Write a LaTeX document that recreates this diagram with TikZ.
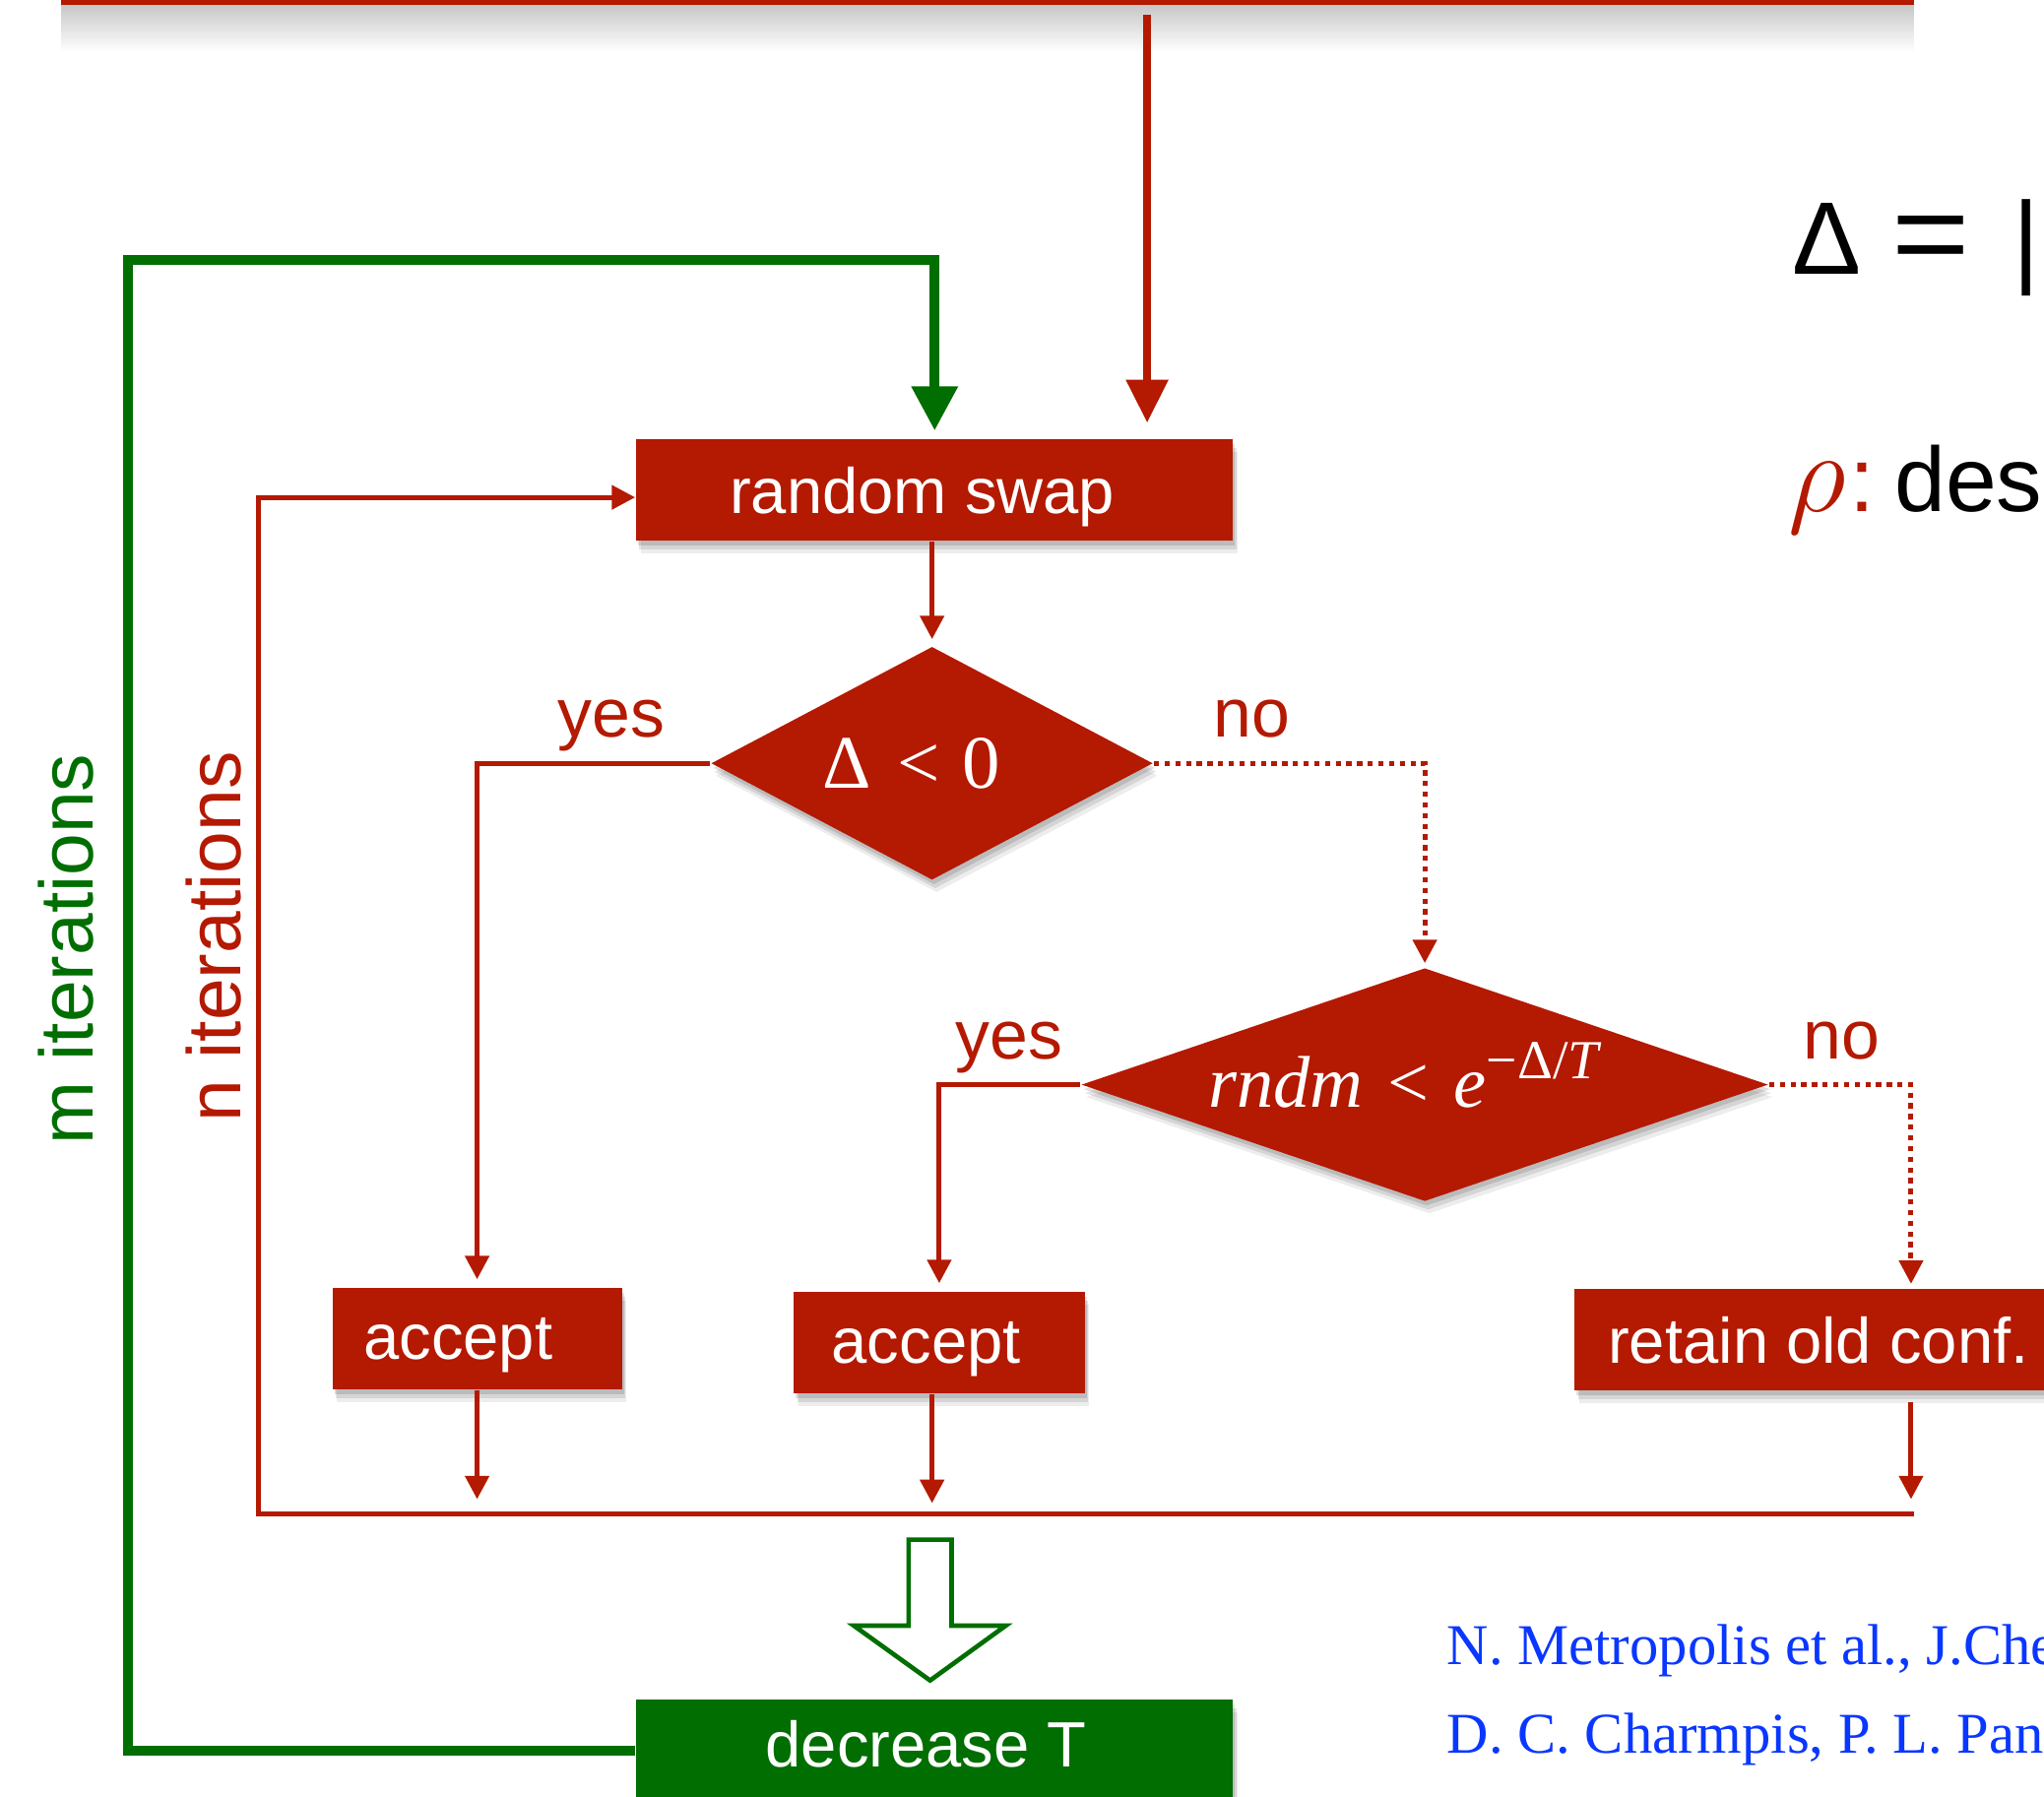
\documentclass[tikz,border=0pt]{standalone}
\usepackage{fontspec}
\setmainfont{Liberation Sans}
\newfontfamily\tms{Liberation Serif}
\usetikzlibrary{arrows.meta,shapes.geometric,shadows}
\definecolor{fred}{RGB}{180,25,2}
\definecolor{fgreen}{RGB}{0,110,0}
\definecolor{fblue}{RGB}{10,55,255}
\newcommand\shl[2]{\kern-#1\relax#2\kern#1\relax}
\begin{document}
\begin{tikzpicture}[x=0.1mm,y=-0.1mm,
  shad/.style={
    drop shadow={shadow xshift=0.15mm, shadow yshift=-0.35mm, opacity=0.12, fill=black},
    drop shadow={shadow xshift=0.25mm, shadow yshift=-0.65mm, opacity=0.10, fill=black},
    drop shadow={shadow xshift=0.35mm, shadow yshift=-0.95mm, opacity=0.07, fill=black}},
  box/.style={fill=fred, text=white, inner sep=0pt, minimum height=7.8mm, text depth=0pt,
    font=\fontsize{14}{16}\selectfont, shad},
  gbox/.style={box, fill=fgreen},
  dia/.style={diamond, fill=fred, text=white, inner sep=0pt, shad},
  rl/.style={draw=fred, line width=0.38mm},
  rtip/.style={-{Triangle[length=1.8mm,width=1.8mm]}},
  dots/.style={dash pattern=on 0.4mm off 0.42mm},
  lab/.style={text=fred, font=\fontsize{15}{17}\selectfont, anchor=base, inner sep=0pt},
  side/.style={font=\fontsize{16.5}{18}\selectfont, rotate=90, anchor=base west, inner sep=0pt},
  cite/.style={text=fblue, anchor=base west, inner sep=0pt, font=\tms\fontsize{12.6}{14}\selectfont},
]
\useasboundingbox (0,0) rectangle (1568,1378);
\clip (0,0) rectangle (1568,1378);

% top bar with its shadow
\shade[top color=black!22, bottom color=white] (47,3.5) rectangle (1468,40);
\fill[fred] (47,-20) rectangle (1468,3.5);
\coordinate (topsrc) at (880,11);

% nodes
\node[box, minimum width=45.8mm] (swap) at (717,376) {\shl{0.95mm}{random swap}};
\node[dia, minimum width=33.9mm, minimum height=17.9mm, shape aspect=1.9]
  (d1) at (715,585.5) {\tms\fontsize{16.5}{18}\selectfont\shl{1.6mm}{Δ\hspace{2mm}<\hspace{1.7mm}0}};
\node[dia, minimum width=52.7mm, minimum height=17.9mm, shape aspect=2.9, text depth=1.5mm]
  (d2) at (1093,832) {\tms\fontsize{16}{18}\selectfont\shl{1.5mm}{\textit{rndm}\hspace{1.9mm}<\hspace{1.9mm}\textit{e}\raisebox{2.2mm}{\fontsize{12}{13}\selectfont\tms −Δ/\textit{T}}}};
\node[box, minimum width=22.2mm] (acc1) at (366,1027) {\shl{1.45mm}{accept}};
\node[box, minimum width=22.3mm] (acc2) at (720.5,1030) {\shl{1mm}{accept}};
\node[box, minimum width=40mm] (ret) at (1408,1027.5) {\shl{1.3mm}{retain old conf.}};
\node[gbox, minimum width=45.8mm, text depth=1.1mm] (decT) at (717,1343) {\shl{0.65mm}{decrease T}};

% labels
\node[lab] (yes1) at (469,565) {yes};
\node[lab] (no1) at (960,565.5) {no};
\node[lab] (yes2) at (774,812) {yes};
\node[lab] (no2) at (1412.6,812) {no};
\node[side, text=fred] (niter) at (184.4,861) {n iterations};
\node[side, text=fgreen] (miter) at (71.7,878.6) {m iterations};

% right-hand text
\node[anchor=base west, inner sep=0pt, font=\fontsize{22.5}{24}\selectfont] (delta) at (1374,210.7)
  {Δ\hspace{2.4mm}\scalebox{1.3}[1.15]{=}\hspace{3.3mm}|};
\node[anchor=base west, inner sep=0pt, font=\fontsize{20}{22}\selectfont] (rho) at (1371,392.7)
  {\textcolor{fred}{\fontsize{24}{24}\selectfont$\rho$\kern0.3mm\fontsize{20}{22}\selectfont:}\hspace{1.5mm}des};
\node[cite] (cit1) at (1109.5,1277) {N. Metropolis et al., J.Che};
\node[cite] (cit2) at (1109.5,1345) {D. C. Charmpis, P. L. Pan};

% connectors
\draw[rl, line width=0.65mm, -{Triangle[length=3.3mm,width=3.1mm]}, shorten >=1.2mm]
  (topsrc) -- (topsrc |- swap.north);
\draw[rl, rtip, shorten >=0.5mm] (swap.south -| d1.north) -- (d1.north);
\draw[rl, rtip, shorten >=0.6mm] (d1.west) -| (acc1.north);
\draw[rl, dots, rtip, shorten >=0.3mm] (d1.east) -| (d2.north);
\draw[rl, rtip, shorten >=0.6mm] (d2.west) -| (acc2.north);
\draw[rl, dots, rtip, shorten >=0.3mm] (d2.east) -| ([xshift=5.8mm]ret.north);

\coordinate (busL) at (198.5,1161);
\coordinate (busR) at (1468,1161);
\draw[rl, rtip, shorten >=1.1mm] (acc1.south) -- (acc1.south |- busL);
\draw[rl, rtip, shorten >=0.8mm] ([xshift=-0.55mm]acc2.south) -- ([xshift=-0.55mm]acc2.south |- busL);
\draw[rl, rtip, shorten <=0.8mm, shorten >=1.1mm] ([xshift=5.8mm]ret.south) -- ([xshift=5.8mm]ret.south |- busL);
\draw[rl, rtip] (busR) -- (busL) |- ([yshift=-0.55mm]swap.west);

\coordinate (gL) at (98.5,199.5);
\draw[draw=fgreen, line width=0.75mm, -{Triangle[length=3.4mm,width=3.4mm]}, shorten >=0.6mm]
  (decT.west) -| (gL) -| (swap.north);

% hollow block arrow
\draw[fgreen, line width=0.35mm, fill=white]
  (697,1181) -- (730,1181) -- (730,1247) -- (771.5,1247) -- (713.5,1289)
  -- (655,1247) -- (697,1247) -- cycle;
\end{tikzpicture}
\end{document}
